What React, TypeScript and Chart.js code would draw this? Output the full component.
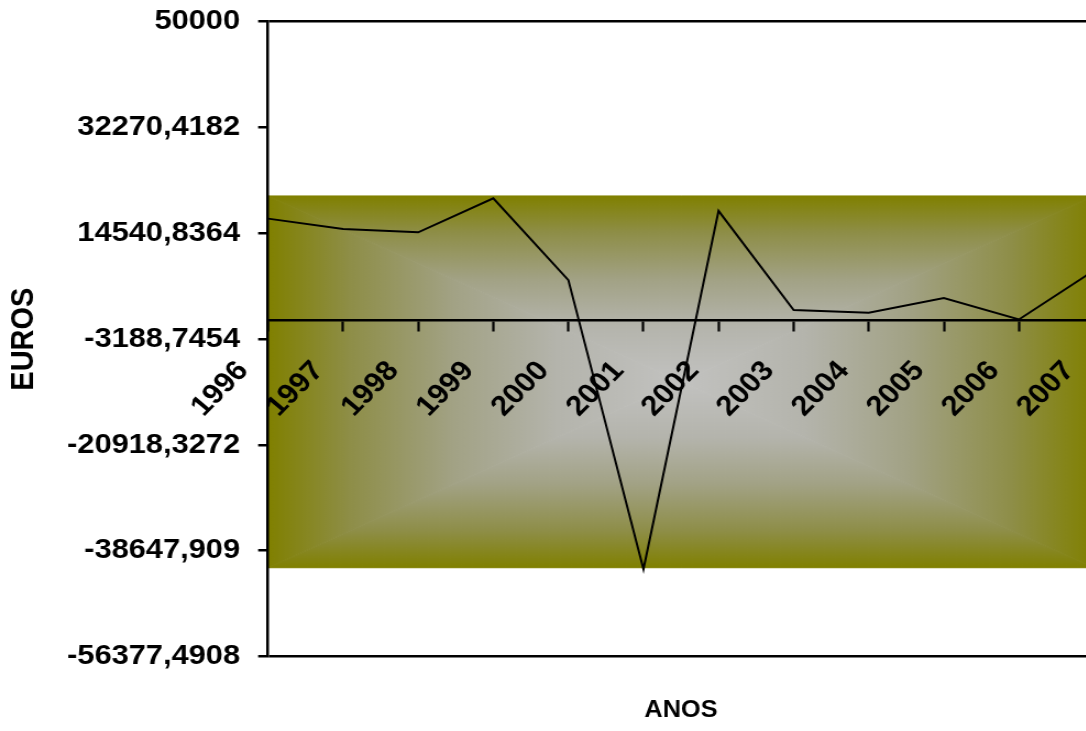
import React, { useEffect, useRef } from "react";
import { Chart, registerables } from "chart.js";

Chart.register(...registerables);

// ---------- data ----------
const categories = ["1996", "1997", "1998", "1999", "2000", "2001", "2002", "2003", "2004", "2005", "2006", "2007"];
const values = [17000, 15250, 14700, 20400, 6700, -41750, 18300, 1680, 1220, 3690, 100, 8300];
const yTickValues = [-56377.4908, -38647.909, -20918.3272, -3188.7454, 14540.8364, 32270.4182, 50000];
const yTickLabels = ["-56377,4908", "-38647,909", "-20918,3272", "-3188,7454", "14540,8364", "32270,4182", "50000"];
const bandTop = 20800;
const bandBottom = -41500;
const yTitle = "EUROS";
const xTitle = "ANOS";

// ---------- layout (CSS px of the reference) ----------
const SX = 1.1; // horizontal stretch of the reference rendering
const CANVAS_W = 1000;
const CANVAS_H = 731;
const PLOT_LEFT = 268 / SX;
const PLOT_RIGHT = 1094 / SX;
const PLOT_TOP = 21.7;
const PLOT_BOTTOM = 656.5;
const LABEL_ROT = (Math.atan(SX) * 180) / Math.PI; // appears as 45° once stretched
const FONT = '"Liberation Sans", Arial, Helvetica, sans-serif';

// gradient stops: 0 = edge, 1 = centre
const GRAD_STOPS: [number, string][] = [
  [0, "#808000"],
  [0.2, "#8E8E48"],
  [0.45, "#A2A285"],
  [0.7, "#B4B4AC"],
  [1, "#C2C2C0"],
];

function drawRectGradient(ctx: CanvasRenderingContext2D, l: number, t: number, r: number, b: number) {
  const cx = (l + r) / 2;
  const cy = (t + b) / 2;
  const tri = (pts: number[][], x0: number, y0: number, x1: number, y1: number) => {
    const g = ctx.createLinearGradient(x0, y0, x1, y1);
    GRAD_STOPS.forEach(([o, c]) => g.addColorStop(o, c));
    ctx.fillStyle = g;
    ctx.strokeStyle = g;
    ctx.lineWidth = 1;
    ctx.beginPath();
    ctx.moveTo(pts[0][0], pts[0][1]);
    for (let i = 1; i < pts.length; i++) ctx.lineTo(pts[i][0], pts[i][1]);
    ctx.closePath();
    ctx.fill();
    ctx.stroke();
  };
  tri([[l, t], [r, t], [cx, cy]], cx, t, cx, cy);
  tri([[l, b], [r, b], [cx, cy]], cx, b, cx, cy);
  tri([[l, t], [l, b], [cx, cy]], l, cy, cx, cy);
  tri([[r, t], [r, b], [cx, cy]], r, cy, cx, cy);
}

const bandPlugin = {
  id: "band",
  beforeDraw(chart: any) {
    const { ctx, chartArea, scales } = chart;
    const y = scales.y;
    const t = y.getPixelForValue(bandTop);
    const b = y.getPixelForValue(bandBottom);
    ctx.save();
    ctx.beginPath();
    ctx.rect(chartArea.left, chartArea.top, chartArea.right - chartArea.left, chartArea.bottom - chartArea.top);
    ctx.clip();
    drawRectGradient(ctx, chartArea.left, t, chartArea.right, b);
    ctx.restore();
  },
};

const xTitlePlugin = {
  id: "xTitle",
  afterDraw(chart: any) {
    const { ctx, chartArea } = chart;
    ctx.save();
    ctx.font = `bold 23px ${FONT}`;
    ctx.fillStyle = "#000";
    ctx.textAlign = "center";
    ctx.textBaseline = "middle";
    ctx.fillText(xTitle, (chartArea.left + chartArea.right) / 2, 711);
    ctx.restore();
  },
};

const zeroPadding = (s: any) => {
  s.paddingTop = 0;
  s.paddingBottom = 0;
  s.paddingLeft = 0;
  s.paddingRight = 0;
};

export default function App() {
  const ref = useRef<HTMLCanvasElement>(null);
  useEffect(() => {
    if (!ref.current) return;
    const chart = new Chart(ref.current, {
      type: "line",
      data: {
        labels: categories,
        datasets: [
          {
            data: values,
            borderColor: "#000",
            borderWidth: 2,
            pointRadius: 0,
            tension: 0,
            fill: false,
          },
        ],
      },
      options: {
        responsive: false,
        animation: false,
        devicePixelRatio: 1,
        layout: {
          padding: { top: PLOT_TOP, right: CANVAS_W - PLOT_RIGHT, left: 0, bottom: CANVAS_H - PLOT_BOTTOM },
        },
        plugins: {
          legend: { display: false },
          tooltip: { enabled: false },
        },
        scales: {
          x: {
            type: "category",
            offset: false,
            position: { y: 0 } as any,
            grid: {
              drawOnChartArea: false,
              drawTicks: true,
              tickLength: 10,
              tickColor: "#000",
              tickWidth: 2.2,
              color: "#000",
            },
            border: { display: true, color: "#000", width: 2.5 },
            ticks: {
              autoSkip: false,
              minRotation: LABEL_ROT,
              maxRotation: LABEL_ROT,
              labelOffset: -22.5,
              padding: 24.6,
              color: "#000",
              font: { family: FONT, size: 28, weight: "bold" },
            },
            afterFit: zeroPadding,
          },
          y: {
            type: "linear",
            min: yTickValues[0],
            max: yTickValues[yTickValues.length - 1],
            afterBuildTicks: (s: any) => {
              s.ticks = yTickValues.map((v) => ({ value: v }));
            },
            ticks: {
              autoSkip: false,
              padding: 16.4,
              color: "#000",
              font: { family: FONT, size: 28, weight: "bold" },
              callback: (v: any) => {
                const i = yTickValues.indexOf(Number(v));
                return i >= 0 ? yTickLabels[i] : "";
              },
            },
            grid: {
              drawOnChartArea: true,
              color: (c: any) =>
                c.index === 0 || c.index === yTickValues.length - 1 ? "#000" : "rgba(0,0,0,0)",
              lineWidth: 2.5,
              tickColor: "#000",
              tickLength: 9,
              tickWidth: 2.5,
            },
            border: { display: true, color: "#000", width: 2.5 },
            title: {
              display: true,
              text: yTitle,
              color: "#000",
              font: { family: FONT, size: 29, weight: "bold" },
              padding: { top: 5, bottom: 0 },
            },
            afterFit: (s: any) => {
              s.width = PLOT_LEFT;
              zeroPadding(s);
            },
          },
        },
      },
      plugins: [bandPlugin, xTitlePlugin],
    } as any);
    return () => chart.destroy();
  }, []);

  return (
    <div
      style={{
        position: "fixed",
        left: 0,
        top: 0,
        width: 1086,
        height: 731,
        overflow: "hidden",
        background: "#fff",
      }}
    >
      <div
        style={{
          width: CANVAS_W,
          height: CANVAS_H,
          transform: `scaleX(${SX})`,
          transformOrigin: "0 0",
        }}
      >
        <canvas
          ref={ref}
          width={CANVAS_W}
          height={CANVAS_H}
          style={{ display: "block", width: CANVAS_W, height: CANVAS_H }}
        />
      </div>
    </div>
  );
}
